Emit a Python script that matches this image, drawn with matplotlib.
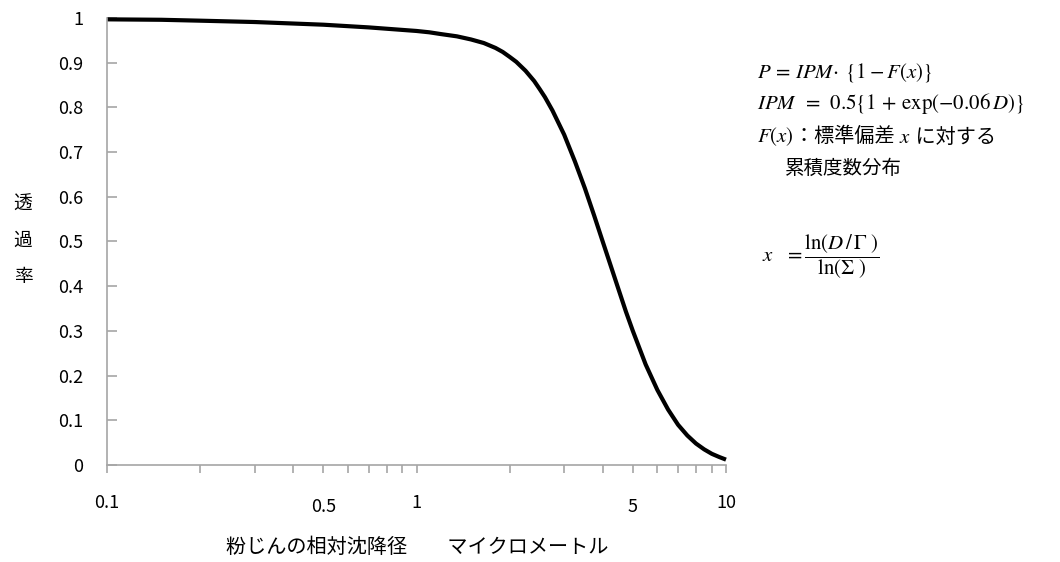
import numpy as np
import matplotlib
matplotlib.use("Agg")
import matplotlib.pyplot as plt
from matplotlib.ticker import FixedLocator, NullFormatter
from matplotlib.offsetbox import TextArea, HPacker, AnnotationBbox

plt.rcParams['font.family'] = ['Noto Sans CJK JP', 'DejaVu Sans']
plt.rcParams['mathtext.fontset'] = 'stix'

# values (diameter in micrometres, penetration)
diam = [0.1, 0.15, 0.2, 0.3, 0.5, 0.7, 1.0, 1.1, 1.2, 1.35, 1.5, 1.65, 1.8,
        1.9, 2.0, 2.1, 2.25, 2.4, 2.5, 2.6, 2.75, 3.0, 3.25, 3.5, 3.75, 4.0,
        4.25, 4.5, 4.75, 5.0, 5.5, 6.0, 6.5, 7.0, 7.5, 8.0, 8.5, 9.0, 9.5, 10.0]
pen = [0.997, 0.996, 0.994, 0.991, 0.985, 0.979, 0.971, 0.968, 0.964, 0.959,
       0.952, 0.944, 0.933, 0.924, 0.913, 0.902, 0.882, 0.859, 0.841, 0.823,
       0.793, 0.739, 0.679, 0.619, 0.558, 0.499, 0.444, 0.392, 0.343, 0.300,
       0.225, 0.168, 0.124, 0.090, 0.066, 0.048, 0.035, 0.025, 0.018, 0.012]

xtick_vals = [0.1, 0.5, 1, 5, 10]
xtick_text = ['0.1', '0.5', '1', '5', '10']
ytick_vals = [0, 0.1, 0.2, 0.3, 0.4, 0.5, 0.6, 0.7, 0.8, 0.9, 1]
ytick_text = ['0', '0.1', '0.2', '0.3', '0.4', '0.5', '0.6', '0.7', '0.8', '0.9', '1']

fig = plt.figure(figsize=(10.6, 5.62), dpi=100)
ax = fig.add_axes([107/1060, 1-465/562, (726-107)/1060, (465-18)/562])

ax.plot(diam, pen, color='black', linewidth=3, solid_joinstyle='round',
        solid_capstyle='butt', clip_on=False)

ax.set_xscale('log')
ax.set_xlim(0.1, 10)
ax.set_ylim(0, 1)

for s in ['top', 'right']:
    ax.spines[s].set_visible(False)
for s in ['left', 'bottom']:
    ax.spines[s].set_color('#a6a6a6')
    ax.spines[s].set_linewidth(1.2)

# x ticks: marks only, labels drawn as text below (0.5 and 5 sit a bit lower)
minor = [v * d for d in [0.1, 1] for v in range(2, 10)]
ax.xaxis.set_major_locator(FixedLocator([0.1, 1, 10]))
ax.xaxis.set_minor_locator(FixedLocator(minor))
ax.xaxis.set_major_formatter(NullFormatter())
ax.xaxis.set_minor_formatter(NullFormatter())
ax.tick_params(axis='x', which='both', direction='out', length=6, width=1.2,
               color='#a6a6a6')

ax.set_yticks(ytick_vals)
ax.set_yticklabels(ytick_text)
ax.tick_params(axis='y', direction='in', length=7, width=1.2, color='#a6a6a6',
               pad=17, labelsize=13)

xform = ax.get_xaxis_transform()
for v, t in zip(xtick_vals, xtick_text):
    dy = -0.095 if t in ('0.5', '5') else -0.084
    ax.text(v, dy, t, transform=xform, ha='center', va='center', fontsize=13)

fig.text(417/1060, 1-547/562, '粉じんの相対沈降径　　マイクロメートル',
         ha='center', va='center', fontsize=14.5)
fig.text(23/1060, 1-240/562, '透\n過\n率', ha='center', va='center',
         fontsize=13.5, linespacing=1.95)

# formula block on the right
fs = 15
fig.text(757/1060, 1-72/562, r'$P\,=\,IPM\!\cdot\;\{1-F(x)\}$',
         ha='left', va='center', fontsize=fs)
fig.text(757/1060, 1-104/562, r'$IPM\;\;=\;\,0.5\{1\,+\,\mathrm{exp}(-0.06\,D)\}$',
         ha='left', va='center', fontsize=fs)

line3 = HPacker(children=[
    TextArea(r'$F(x)$', textprops=dict(fontsize=fs)),
    TextArea('：標準偏差 ', textprops=dict(fontsize=14.5)),
    TextArea(r'$x$', textprops=dict(fontsize=fs)),
    TextArea(' に対する', textprops=dict(fontsize=14.5)),
], align='center', pad=0, sep=0)
ab = AnnotationBbox(line3, (757/1060, 1-137/562), xycoords='figure fraction',
                    box_alignment=(0, 0.5), frameon=False, pad=0,
                    annotation_clip=False)
ax.add_artist(ab)

fig.text(785/1060, 1-168/562, '累積度数分布', ha='left', va='center', fontsize=14)
fig.text(762/1060, 1-257/562,
         r'$x\;\;\;=\dfrac{\mathrm{ln}(D\,/\,\Gamma\;)}{\mathrm{ln}(\Sigma\;)}$',
         ha='left', va='center', fontsize=fs)

fig.savefig('out.png', dpi=100)
